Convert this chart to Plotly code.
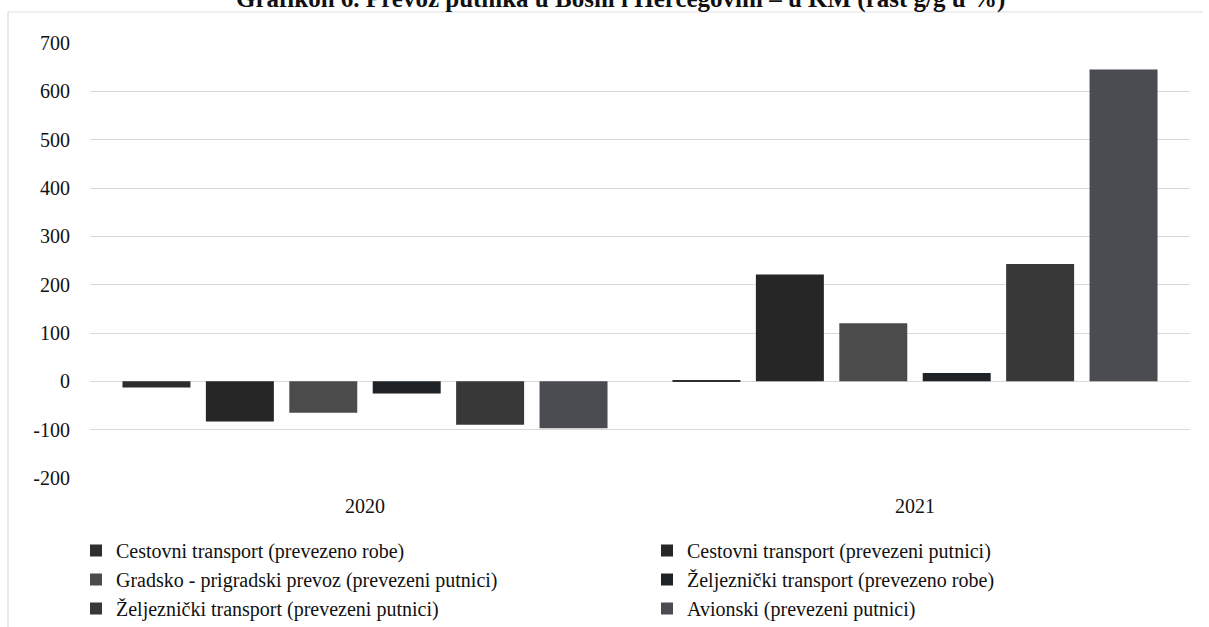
import plotly.graph_objects as go

years = ["2020", "2021"]
series_names = [
    "Cestovni transport (prevezeno robe)",
    "Cestovni transport (prevezeni putnici)",
    "Gradsko - prigradski prevoz (prevezeni putnici)",
    "Željeznički transport (prevezeno robe)",
    "Željeznički transport (prevezeni putnici)",
    "Avionski (prevezeni putnici)",
]
cestovni_robe = [-13, 3]
cestovni_putnici = [-83, 221]
gradsko = [-65, 120]
zeljeznicki_robe = [-25, 17]
zeljeznicki_putnici = [-90, 243]
avionski = [-97, 645]
series_values = [cestovni_robe, cestovni_putnici, gradsko, zeljeznicki_robe,
                 zeljeznicki_putnici, avionski]
colors = ["#2e2e2e", "#262626", "#4a4b4a", "#1f2326", "#383838", "#4b4b52"]

y_ticks = [-200, -100, 0, 100, 200, 300, 400, 500, 600, 700]
y_tick_labels = ["-200", "-100", "0", "100", "200", "300", "400", "500", "600", "700"]
title_text = "Grafikon 6. Prevoz putnika u Bosni i Hercegovini – u KM (rast g/g u %)"

FONT = "Liberation Serif, Times New Roman, serif"

fig = go.Figure()
for name, vals, col in zip(series_names, series_values, colors):
    fig.add_trace(go.Bar(name=name, x=years, y=vals,
                         marker=dict(color=col, line=dict(width=0))))

W, H = 1209, 627
L, R, T, B = 90, 19, 43, 149
plot_h = H - T - B
plot_w = W - L - R

fig.update_layout(
    width=W, height=H,
    margin=dict(l=L, r=R, t=T, b=B, autoexpand=False),
    paper_bgcolor="white", plot_bgcolor="white",
    barmode="group", bargap=0.09, bargroupgap=0.185,
    font=dict(family=FONT, color="#111111", size=20),
    showlegend=True,
    legend=dict(
        orientation="h",
        xref="paper", yref="paper",
        x=(76 - L) / plot_w, xanchor="left",
        y=-(531 - (T + plot_h)) / plot_h, yanchor="top",
        entrywidth=526, entrywidthmode="pixels",
        itemwidth=30,
        font=dict(family=FONT, size=20, color="#111111"),
        traceorder="normal",
        bgcolor="rgba(0,0,0,0)",
    ),
    xaxis=dict(
        type="category", range=[-0.5, 1.5],
        showgrid=False, zeroline=False, showline=False,
        ticks="", ticklabelstandoff=14,
        tickfont=dict(family=FONT, size=20, color="#111111"),
    ),
    yaxis=dict(
        range=[-200, 700], tickvals=y_ticks, ticktext=y_tick_labels,
        showgrid=True, gridcolor="#d9d9d9", gridwidth=1,
        zeroline=True, zerolinecolor="#d9d9d9", zerolinewidth=1,
        showline=False, ticks="", ticklabelstandoff=19,
        tickfont=dict(family=FONT, size=20, color="#111111"),
    ),
)

fig.add_annotation(
    text="<b>" + title_text + "</b>",
    xref="paper", yref="paper",
    x=(620 - L) / plot_w, y=(T + plot_h + 1) / plot_h,
    xanchor="center", yanchor="middle", showarrow=False,
    font=dict(family=FONT, size=25, color="#111111"),
)

# faint chart frame (left and top borders)
fig.add_shape(type="line", xref="paper", yref="paper",
              x0=(8 - L) / plot_w, x1=(8 - L) / plot_w,
              y0=(T + plot_h - 12) / plot_h, y1=(T + plot_h - 640) / plot_h,
              line=dict(color="#d0d0d0", width=1))
fig.add_shape(type="line", xref="paper", yref="paper",
              x0=(8 - L) / plot_w, x1=(1203 - L) / plot_w,
              y0=(T + plot_h - 12) / plot_h, y1=(T + plot_h - 12) / plot_h,
              line=dict(color="#e0e0e0", width=1))

fig.write_html(
    "out.html",
    config={"displayModeBar": False},
    post_script="document.body.style.margin='0';document.body.style.padding='0';",
)
